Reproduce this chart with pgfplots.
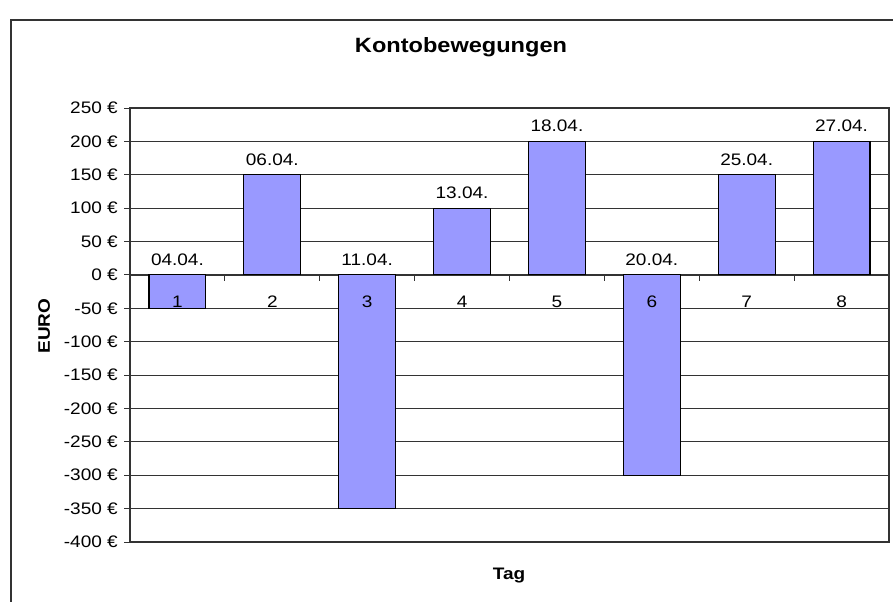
\documentclass[border=0pt]{standalone}
\usepackage{pgfplots}
\usepackage{pgfplotstable}
\pgfplotsset{compat=1.18}
\usepackage{fontspec}
\setmainfont{Liberation Sans}[FakeStretch=1.14]
\definecolor{barfill}{HTML}{9999FF}
\definecolor{framec}{HTML}{333333}

\pgfplotstableread{
x y ly lab zero
1 -50 0 04.04. 0
2 150 150 06.04. 0
3 -350 0 11.04. 0
4 100 100 13.04. 0
5 200 200 18.04. 0
6 -300 0 20.04. 0
7 150 150 25.04. 0
8 200 200 27.04. 0
}\datatable

\begin{document}
\fontsize{12.5}{15}\selectfont
\begin{tikzpicture}[x=0.75pt,y=0.75pt]
\useasboundingbox (0,0) rectangle (893,601);
\begin{scope}
\clip (0,0) rectangle (893,601);
\draw[framec, line width=1.1pt] (11,581) rectangle (980,-40);
\end{scope}
\begin{axis}[
  at={(130pt*0.75,59pt*0.75)}, anchor=south west,
  scale only axis,
  width=569.25pt, height=325.5pt,
  xmin=0.5, xmax=8.5, ymin=-400, ymax=250,
  axis x line=middle, axis y line=left,
  axis line style={-, draw=framec, line width=1pt},
  clip=false,
  ytick={-400,-350,...,250},
  yticklabels={-400 €,-350 €,-300 €,-250 €,-200 €,-150 €,-100 €,-50 €,0 €,50 €,100 €,150 €,200 €,250 €},
  ymajorgrids,
  grid style={draw=framec, line width=0.7pt},
  tick align=outside,
  major tick length=4.5pt,
  tick style={draw=framec, line width=0.7pt},
  tick label style={font=\fontsize{12.5}{15}\selectfont},
  xtick={1.5,2.5,...,7.5},
  xticklabels={},
  yticklabel style={anchor=east, inner sep=0pt, xshift=-4.5pt},
]
\addplot[ybar, bar width=0.6, fill=barfill, draw=black, line width=0.8pt]
  table[x=x, y=y] {\datatable};
\addplot[draw=none, mark=none, nodes near coords, point meta=explicit symbolic,
  nodes near coords style={anchor=base, inner sep=0pt, yshift=7.3pt, font=\fontsize{12.5}{15}\selectfont}]
  table[x=x, y=ly, meta=lab] {\datatable};
\addplot[draw=none, mark=none, nodes near coords, point meta=explicit symbolic,
  nodes near coords style={anchor=base, inner sep=0pt, yshift=-24.2pt, font=\fontsize{12.5}{15}\selectfont}]
  table[x=x, y=zero, meta=x] {\datatable};
\draw[framec, line width=1.2pt] (rel axis cs:0,0) rectangle (rel axis cs:1,1);
\end{axis}
\node[anchor=base, font=\bfseries\fontsize{15.5}{18}\selectfont] at (461,548) {Kontobewegungen};
\node[anchor=base, font=\bfseries\fontsize{12.5}{15}\selectfont] at (509,22) {Tag};
\node[anchor=base, rotate=90, font=\bfseries\fontsize{12.5}{15}\selectfont] at (50,275) {EURO};
\end{tikzpicture}
\end{document}
